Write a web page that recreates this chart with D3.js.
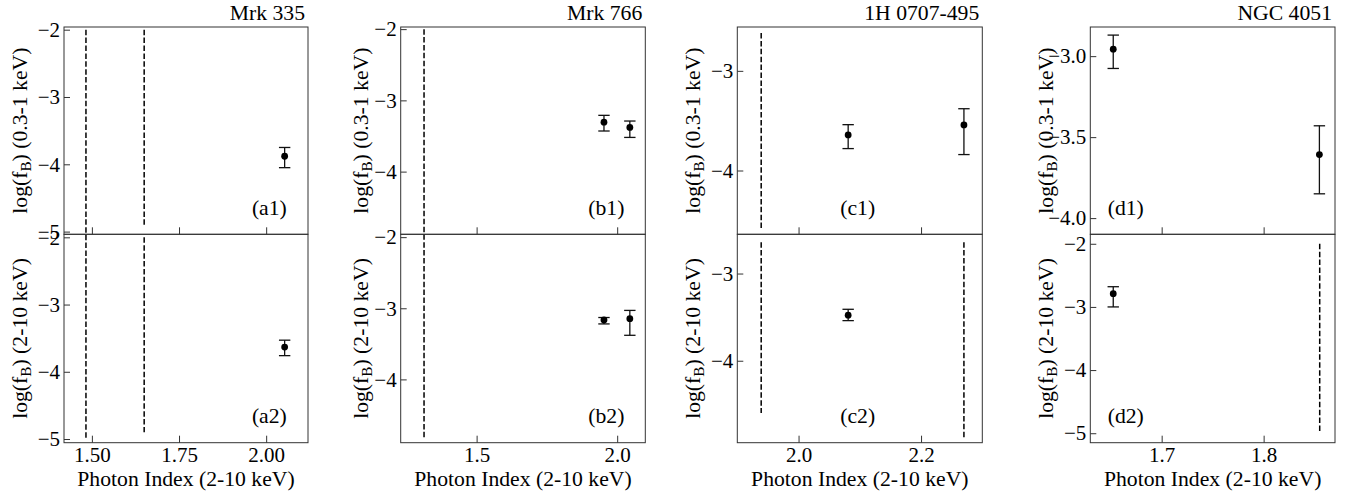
<!DOCTYPE html>
<html><head><meta charset="utf-8">
<script src="https://cdn.jsdelivr.net/npm/d3@7"></script>
<style>
html,body{margin:0;padding:0;background:#fff;}
svg text{font-family:"Liberation Serif","Times New Roman",Times,"DejaVu Serif","Noto Serif",serif !important;fill:#000;}
</style></head>
<body><svg id="chart" width="1351" height="497"></svg>
<script>
// ---------- data ----------
const sources = ["Mrk 335", "Mrk 766", "1H 0707-495", "NGC 4051"];
const tagsSoft = ["(a1)", "(b1)", "(c1)", "(d1)"];
const tagsHard = ["(a2)", "(b2)", "(c2)", "(d2)"];
const xLabel = "Photon Index (2-10 keV)";
const ySoftLabel = "(0.3-1 keV)";
const yHardLabel = "(2-10 keV)";

// photon index of each observation
const mrk335Gamma = [2.053];
const mrk766Gamma = [1.953, 2.045];
const h0707Gamma = [2.081, 2.270];
const ngc4051Gamma = [1.6525, 1.8547];

// log(f_B) 0.3-1 keV : value, lower, upper
const mrk335Soft = [-3.88], mrk335SoftLo = [-4.05], mrk335SoftHi = [-3.75];
const mrk766Soft = [-3.306, -3.38], mrk766SoftLo = [-3.43, -3.52], mrk766SoftHi = [-3.21, -3.29];
const h0707Soft = [-3.643, -3.543], h0707SoftLo = [-3.78, -3.84], h0707SoftHi = [-3.54, -3.38];
const ngc4051Soft = [-2.957, -3.608], ngc4051SoftLo = [-3.076, -3.85], ngc4051SoftHi = [-2.87, -3.43];

// log(f_B) 2-10 keV : value, lower, upper (null = no detection)
const mrk335Hard = [-3.632], mrk335HardLo = [-3.76], mrk335HardHi = [-3.53];
const mrk766Hard = [-3.165, -3.146], mrk766HardLo = [-3.22, -3.38], mrk766HardHi = [-3.13, -3.03];
const h0707Hard = [-3.477, null], h0707HardLo = [-3.54, null], h0707HardHi = [-3.41, null];
const ngc4051Hard = [-2.79, null], ngc4051HardLo = [-3.0, null], ngc4051HardHi = [-2.68, null];

// vertical dashed lines: [photon index, y from, y to]
const mrk335SoftLines = [[1.483, -2.0, -5.05], [1.65, -2.0, -4.91]];
const mrk335HardLines = [[1.483, -1.96, -5.0], [1.65, -2.0, -4.9]];
const mrk766SoftLines = [[1.313, -2.0, -4.88]];
const mrk766HardLines = [[1.313, -1.96, -4.85]];
const h0707SoftLines = [[1.939, -2.62, -4.59]];
const h0707HardLines = [[1.939, -2.64, -4.6], [2.27, -2.64, -4.89]];
const ngc4051SoftLines = [];
const ngc4051HardLines = [[1.855, -2.0, -5.0]];

// axis domains and ticks
const xDomains = [[1.42, 2.12], [1.23, 2.10], [1.9, 2.3], [1.63, 1.87]];
const xTicks = [[1.50, 1.75, 2.00], [1.5, 2.0], [2.0, 2.2], [1.7, 1.8]];
const xTickFmt = [".2f", ".1f", ".1f", ".1f"];
const ySoftDomains = [[-5.04, -1.96], [-4.88, -1.97], [-4.64, -2.56], [-4.10, -2.82]];
const yHardDomains = [[-5.055, -1.955], [-4.89, -1.96], [-4.94, -2.55], [-5.15, -1.85]];
const ySoftTicks = [[-2, -3, -4, -5], [-2, -3, -4], [-3, -4], [-3.0, -3.5, -4.0]];
const yHardTicks = [[-2, -3, -4, -5], [-2, -3, -4], [-3, -4], [-2, -3, -4, -5]];
const ySoftFmt = ["d", "d", "d", ".1f"];
const yHardFmt = ["d", "d", "d", "d"];

// ---------- build ----------
function pts(g, v, lo, hi) {
  return g.map((x, i) => ({x, y: v[i], lo: lo[i], hi: hi[i]})).filter(d => d.y != null);
}
const softPts = [
  pts(mrk335Gamma, mrk335Soft, mrk335SoftLo, mrk335SoftHi),
  pts(mrk766Gamma, mrk766Soft, mrk766SoftLo, mrk766SoftHi),
  pts(h0707Gamma, h0707Soft, h0707SoftLo, h0707SoftHi),
  pts(ngc4051Gamma, ngc4051Soft, ngc4051SoftLo, ngc4051SoftHi)];
const hardPts = [
  pts(mrk335Gamma, mrk335Hard, mrk335HardLo, mrk335HardHi),
  pts(mrk766Gamma, mrk766Hard, mrk766HardLo, mrk766HardHi),
  pts(h0707Gamma, h0707Hard, h0707HardLo, h0707HardHi),
  pts(ngc4051Gamma, ngc4051Hard, ngc4051HardLo, ngc4051HardHi)];
const softLines = [mrk335SoftLines, mrk766SoftLines, h0707SoftLines, ngc4051SoftLines];
const hardLines = [mrk335HardLines, mrk766HardLines, h0707HardLines, ngc4051HardLines];

// ---------- layout ----------
const FONT = '"Liberation Serif","Times New Roman",Times,"DejaVu Serif","Noto Serif",serif';
const boxLeft = [64, 400.7, 737.3, 1090.3];
const boxRight = [308, 645.3, 982.3, 1335];
const yTop = 27, yMid = 234.3, yBottom = 442.7;
const ylabX = [26.7, 368, 700, 1053];
const tagFrac = [0.77, 0.767, 0.42, 0.071];
const FS = 21;
const FSL = 21.7;
const spineColor = "#333";

const svg = d3.select("#chart").attr("font-family", FONT);
svg.append("rect").attr("width", 1351).attr("height", 497).attr("fill", "#fff");

function panel(col, row) {
  const y0 = row === 0 ? yTop : yMid, y1 = row === 0 ? yMid : yBottom;
  const L = boxLeft[col], R = boxRight[col];
  const x = d3.scaleLinear().domain(xDomains[col]).range([L, R]);
  const y = d3.scaleLinear().domain(row === 0 ? ySoftDomains[col] : yHardDomains[col]).range([y1, y0]);
  const g = svg.append("g").attr("font-family", FONT);

  // dashed lines
  const lines = row === 0 ? softLines[col] : hardLines[col];
  g.selectAll("line.dash").data(lines).join("line")
    .attr("x1", d => x(d[0])).attr("x2", d => x(d[0]))
    .attr("y1", d => y(d[1])).attr("y2", d => y(d[2]))
    .attr("stroke", "#000").attr("stroke-width", 1.5).attr("stroke-dasharray", "5.5,2.4");

  // y axis
  const yt = row === 0 ? ySoftTicks[col] : yHardTicks[col];
  const yf = d3.format(row === 0 ? ySoftFmt[col] : yHardFmt[col]);
  const ya = d3.axisLeft(y).tickValues(yt).tickFormat(yf).tickSizeInner(-6).tickSizeOuter(0).tickPadding(4);
  const yg = g.append("g").attr("transform", `translate(${L},0)`).call(ya).attr("font-family", FONT).attr("font-size", FS);
  yg.select(".domain").remove();
  yg.selectAll(".tick line").attr("stroke", spineColor);
  yg.selectAll(".tick text").attr("x", -4).attr("font-size", FS).attr("font-family", FONT);

  // x axis ticks (bottom, inward)
  const xa = d3.axisBottom(x).tickValues(xTicks[col]).tickFormat(d3.format(xTickFmt[col])).tickSizeInner(-7).tickSizeOuter(0);
  const xg = g.append("g").attr("transform", `translate(0,${y1})`).call(xa).attr("font-family", FONT).attr("font-size", FS);
  xg.select(".domain").remove();
  xg.selectAll(".tick line").attr("stroke", spineColor);
  if (row === 1) {
    xg.selectAll(".tick text").attr("y", 19).attr("dy", 0).attr("font-size", FS).attr("font-family", FONT);
  } else {
    xg.selectAll(".tick text").remove();
  }

  // frame
  g.append("rect").attr("x", L).attr("y", y0).attr("width", R - L).attr("height", y1 - y0)
    .attr("fill", "none").attr("stroke", spineColor).attr("stroke-width", 1);

  // error bars + points
  const data = row === 0 ? softPts[col] : hardPts[col];
  const cap = 5.7;
  const eb = g.selectAll("g.eb").data(data).join("g");
  eb.append("line").attr("x1", d => x(d.x)).attr("x2", d => x(d.x))
    .attr("y1", d => y(d.lo)).attr("y2", d => y(d.hi)).attr("stroke", "#111").attr("stroke-width", 1.3);
  eb.append("line").attr("x1", d => x(d.x) - cap).attr("x2", d => x(d.x) + cap)
    .attr("y1", d => y(d.lo)).attr("y2", d => y(d.lo)).attr("stroke", "#111").attr("stroke-width", 1.3);
  eb.append("line").attr("x1", d => x(d.x) - cap).attr("x2", d => x(d.x) + cap)
    .attr("y1", d => y(d.hi)).attr("y2", d => y(d.hi)).attr("stroke", "#111").attr("stroke-width", 1.3);
  eb.append("circle").attr("cx", d => x(d.x)).attr("cy", d => y(d.y)).attr("r", 3.4).attr("fill", "#000");

  // panel tag
  g.append("text").attr("x", L + tagFrac[col] * (R - L)).attr("y", y1 - 19.5)
    .attr("font-size", FSL).attr("font-family", FONT).text(row === 0 ? tagsSoft[col] : tagsHard[col]);

  // y label
  const cy = (y0 + y1) / 2;
  const t = g.append("text").attr("transform", `translate(${ylabX[col]},${cy}) rotate(-90)`)
    .attr("text-anchor", "middle").attr("font-size", FSL).attr("font-family", FONT);
  t.append("tspan").text("log(f");
  t.append("tspan").attr("font-size", FSL * 0.7).attr("dy", 4).text("B");
  t.append("tspan").attr("dy", -4).text(") " + (row === 0 ? ySoftLabel : yHardLabel));

  if (row === 0) {
    g.append("text").attr("x", R - 3).attr("y", 19.5).attr("text-anchor", "end")
      .attr("font-size", FSL).attr("font-family", FONT).text(sources[col]);
  } else {
    g.append("text").attr("x", (L + R) / 2).attr("y", 486).attr("text-anchor", "middle")
      .attr("font-size", FSL).attr("font-family", FONT).text(xLabel);
  }
}
for (let c = 0; c < 4; c++) { panel(c, 0); panel(c, 1); }
</script></body></html>
